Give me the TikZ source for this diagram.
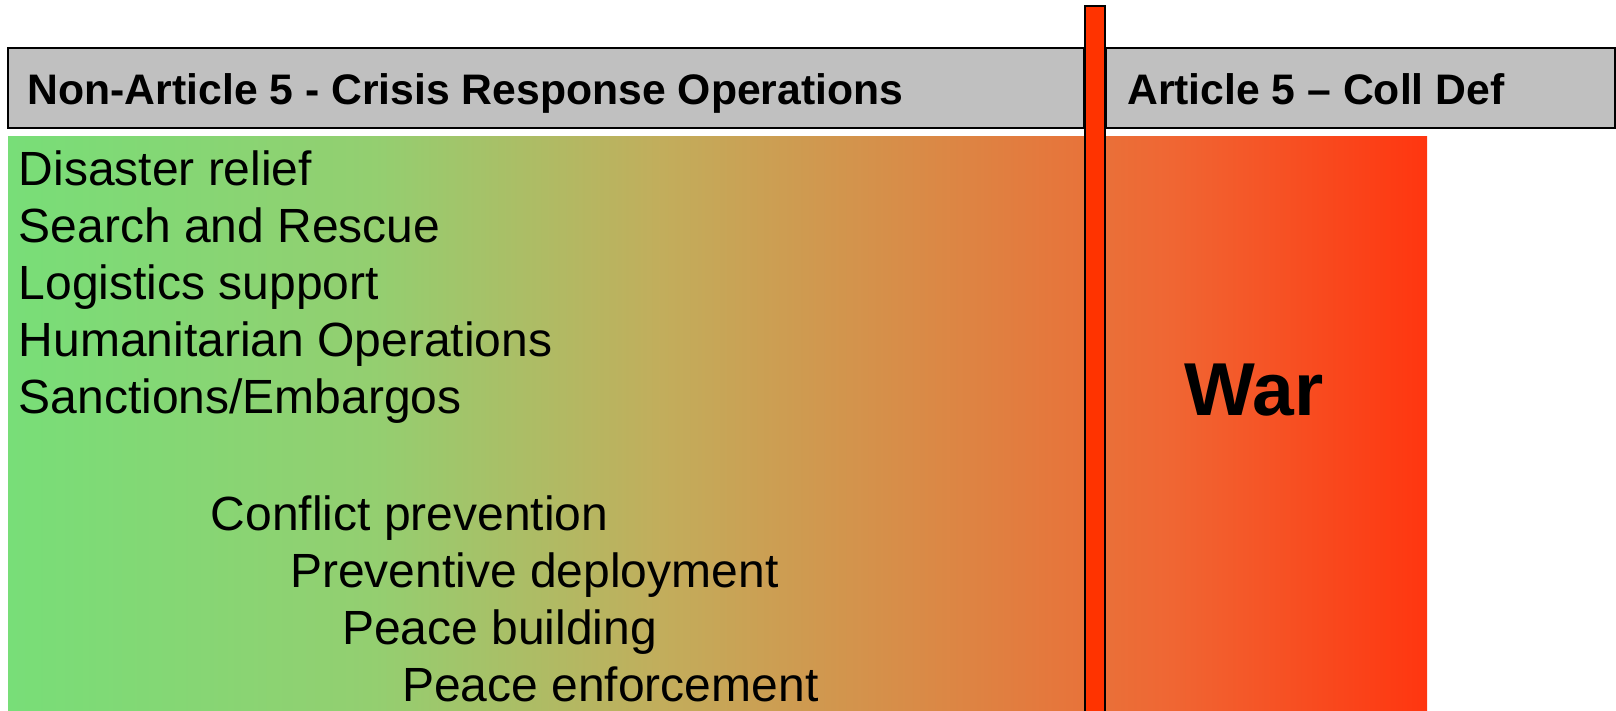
\documentclass[tikz,border=0pt]{standalone}
\usepackage{fontspec}
\setmainfont{Liberation Sans}
\definecolor{hdrgray}{RGB}{192,192,192}
\definecolor{barred}{RGB}{255,51,0}
\pgfdeclarehorizontalshading{peacewar}{100bp}{
  rgb(0bp)=(0.47,0.87,0.47);
  rgb(25bp)=(0.47,0.87,0.47);
  rgb(38bp)=(0.58,0.81,0.44);
  rgb(48bp)=(0.76,0.68,0.36);
  rgb(58bp)=(0.86,0.53,0.27);
  rgb(66bp)=(0.94,0.40,0.20);
  rgb(75bp)=(1.0,0.21,0.06);
  rgb(100bp)=(1.0,0.21,0.06)}
\tikzset{
  hdrbox/.style={draw=black,line width=2pt,fill=hdrgray},
  hdrtext/.style={anchor=base west,inner sep=0pt,font=\fontsize{42.7}{46}\selectfont\bfseries},
  item/.style={anchor=base west,inner sep=0pt,font=\fontsize{48}{52}\selectfont},
  wartext/.style={anchor=base,inner sep=0pt,font=\fontsize{75}{80}\selectfont\bfseries},
  divider/.style={draw=black,line width=2pt,fill=barred}
}
\begin{document}
\begin{tikzpicture}[x=1pt,y=-1pt]
\useasboundingbox (0,0) rectangle (1616,710);
% gradient field
\shade[shading=peacewar] (8,136) rectangle (1427,710);
% header boxes
\draw[hdrbox] (8,47.5) rectangle (1084,128);
\draw[hdrbox] (1106,47.5) rectangle (1615,128);
% divider bar
\draw[divider] (1085,6) rectangle (1105,712);
% header texts
\node[hdrtext] (h1) at (27.5,104) {Non-Article 5 - Crisis Response Operations};
\node[hdrtext] (h2) at (1127,104) {Article 5 – Coll Def};
% items
\node[item] (i1) at (18.5,185.7) {Disaster relief};
\node[item] (i2) at (18.5,242.6) {Search and Rescue};
\node[item] (i3) at (18.5,299.5) {Logistics support};
\node[item] (i4) at (18.5,356.4) {Humanitarian Operations};
\node[item] (i5) at (18.5,413.3) {Sanctions/Embargos};
\node[item] (c1) at (210.5,530.8) {Conflict prevention};
\node[item] (c2) at (290,587.7) {Preventive deployment};
\node[item] (c3) at (342,644.6) {Peace building};
\node[item] (c4) at (402,701.5) {Peace enforcement};
\node[wartext] (war) at (1254,415) {War};
\end{tikzpicture}
\end{document}
